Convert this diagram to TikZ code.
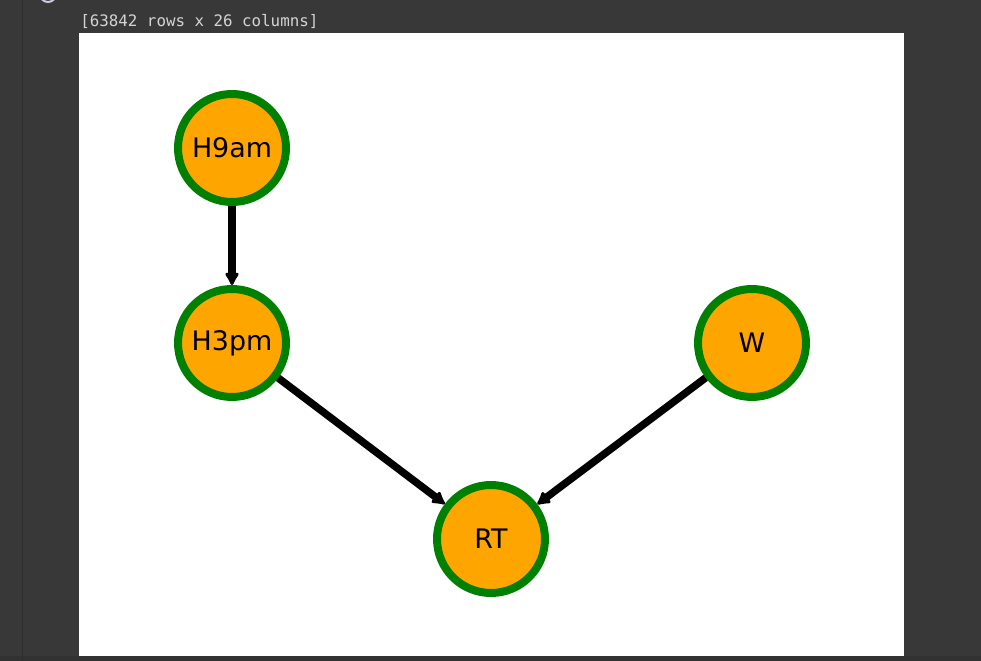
\documentclass[tikz,border=0pt]{standalone}
\usepackage{fontspec}
\setmainfont{DejaVu Sans}
\newfontfamily\monofont{DejaVu Sans Mono}
\usepackage{tikz}
\usetikzlibrary{arrows.meta}
\definecolor{panelgray}{HTML}{383838}
\definecolor{gutterline}{HTML}{2E2E2E}
\definecolor{outtext}{HTML}{D4D4D4}
\definecolor{nodegreen}{HTML}{008000}
\definecolor{nodeorange}{HTML}{FFA500}

\begin{document}
\begin{tikzpicture}[x=0.02cm,y=-0.02cm]
		\tikzset{> = {Latex[length=0.3cm,width=0.34cm,round]}}
		\tikzset{var/.style = {circle,draw = nodegreen,fill = nodeorange,line width = 0.16cm,
			minimum size = 2.16cm,inner sep = 0pt,font = \fontsize{15.3}{18}\selectfont}}
		\useasboundingbox (0,0) rectangle (981,661);
		\fill[panelgray] (0,0) rectangle (981,661);
		\fill[panelgray!90!black] (0,656) rectangle (981,661);
		\draw[gutterline,line width = 0.02cm] (22,0) -- (22,661);
		\draw[gray!60!blue!30!white,line width = 0.04cm] (48,-6) circle (8);
		\node[anchor = base west,text = outtext,inner sep = 0pt,font = \monofont\fontsize{9}{11}\selectfont] (out) at (80,27) {[63842 rows x 26 columns]};
		\fill[white] (79,33) rectangle (904,656);
		\node[var] (H9) at (232,148) {H9am};
		\node[var] (H3) at (232,343) {H3pm};
		\node[var] (W) at (752,343) {W};
		\node[var] (RT) at (491,539) {RT};
		\draw[->,line width = 0.15cm] (H9) -- (H3);
		\draw[->,line width = 0.15cm] (H3) -- (RT);
		\draw[->,line width = 0.15cm] (W) -- (RT);
	\end{tikzpicture}
\end{document}
